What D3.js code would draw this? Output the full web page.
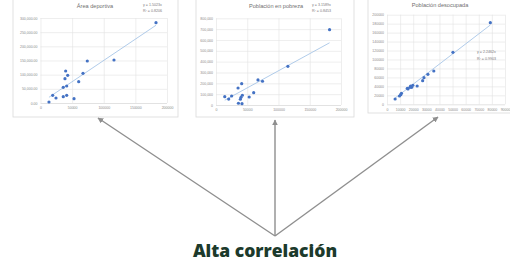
<!DOCTYPE html>
<html>
<head>
<meta charset="utf-8">
<script src="https://cdn.jsdelivr.net/npm/d3@7"></script>
<style>
  html, body { margin: 0; padding: 0; background: #fff; }
  svg { display: block; }
  .tick text { fill: #8a8a8a; font-family: "Liberation Sans", Arial, sans-serif; }
</style>
</head>
<body>
<div id="chart"></div>
<script>
// --- Datos ---
const titles = ["Área deportiva", "Población en pobreza", "Población desocupada"];
const equations = ["y = 1.5023x", "y = 3.1589x", "y = 2.2462x"];
const r2Labels = ["R² = 0.8206", "R² = 0.8453", "R² = 0.9903"];
const slopes = [1.5023, 3.1589, 2.2462];

const deportivaX = [182600, 74000, 116200, 39800, 43000, 38700, 67200, 60400, 36000, 41400, 19300, 24500, 36000, 41400, 53000, 13400];
const deportivaY = [283400, 148200, 151800, 112900, 97800, 85800, 104800, 75200, 55400, 60000, 27200, 17600, 22200, 27200, 15200, 3500];

const pobrezaX = [181700, 115000, 67200, 74400, 41100, 35300, 60300, 53100, 14000, 20300, 25000, 42200, 40000, 39000, 35900, 41600];
const pobrezaY = [695000, 357000, 231000, 219000, 197000, 157000, 114000, 74000, 77000, 55000, 83000, 90000, 71000, 53000, 16000, 12000];

const desocupadaX = [78800, 50300, 35700, 31200, 28200, 27200, 23000, 19700, 18800, 18000, 17500, 16000, 15500, 11000, 9500, 10500, 6200];
const desocupadaY = [182100, 116000, 74300, 67000, 59400, 52700, 40800, 42400, 37900, 40800, 37900, 34200, 35700, 24500, 18500, 21400, 11800];

const xTicks1 = [0, 50000, 100000, 150000, 200000];
const yTicks1 = [0, 50000, 100000, 150000, 200000, 250000, 300000];
const xTicks2 = [0, 50000, 100000, 150000, 200000];
const yTicks2 = [0, 100000, 200000, 300000, 400000, 500000, 600000, 700000, 800000];
const xTicks3 = [0, 10000, 20000, 30000, 40000, 50000, 60000, 70000, 80000, 90000];
const yTicks3 = [0, 20000, 40000, 60000, 80000, 100000, 120000, 140000, 160000, 180000, 200000];

const caption = "Alta correlación";

// --- Layout ---
const W = 510, H = 261;
const svg = d3.select("#chart").append("svg").attr("width", W).attr("height", H);

const panels = [
  { frame: [13, -1, 165, 118], plot: { x0: 40.5, x1: 167, y0: 103, y1: 18 },
    xs: deportivaX, ys: deportivaY, xt: xTicks1, yt: yTicks1,
    yFmt: d3.format(",.2f"), xFmt: d3.format("d"),
    title: [95, 8], eq: [143, 5.5] },
  { frame: [196, -1, 158, 118], plot: { x0: 216, x1: 341, y0: 105, y1: 18.3 },
    xs: pobrezaX, ys: pobrezaY, xt: xTicks2, yt: yTicks2,
    yFmt: d3.format(","), xFmt: d3.format("d"),
    title: [276, 8], eq: [312, 5.5] },
  { frame: [368, -1, 146, 114], plot: { x0: 387, x1: 505, y0: 104.3, y1: 14.7 },
    xs: desocupadaX, ys: desocupadaY, xt: xTicks3, yt: yTicks3,
    yFmt: d3.format("d"), xFmt: d3.format("d"),
    title: [440, 7], eq: [477, 53] }
];

panels.forEach((p, i) => {
  const g = svg.append("g");

  // marco del gráfico
  g.append("rect")
    .attr("x", p.frame[0]).attr("y", p.frame[1])
    .attr("width", p.frame[2]).attr("height", p.frame[3])
    .attr("fill", "#fff").attr("stroke", "#d9d9d9").attr("stroke-width", 0.8);

  const x = d3.scaleLinear().domain([p.xt[0], p.xt[p.xt.length - 1]]).range([p.plot.x0, p.plot.x1]);
  const y = d3.scaleLinear().domain([p.yt[0], p.yt[p.yt.length - 1]]).range([p.plot.y0, p.plot.y1]);

  // ejes con cuadrícula
  const gx = g.append("g")
    .attr("transform", `translate(0,${p.plot.y0})`)
    .call(d3.axisBottom(x).tickValues(p.xt).tickFormat(p.xFmt)
      .tickSize(-(p.plot.y0 - p.plot.y1)).tickPadding(4));
  const gy = g.append("g")
    .attr("transform", `translate(${p.plot.x0},0)`)
    .call(d3.axisLeft(y).tickValues(p.yt).tickFormat(p.yFmt)
      .tickSize(-(p.plot.x1 - p.plot.x0)).tickPadding(3));
  [gx, gy].forEach(a => {
    a.select(".domain").remove();
    a.selectAll(".tick line").attr("stroke", "#e3e3e3").attr("stroke-width", 0.6);
    a.selectAll(".tick text").attr("font-size", 3.5);
  });
  gy.select(".tick line").attr("stroke", "#cfcfcf");

  // línea de tendencia
  const xmin = d3.min(p.xs), xmax = d3.max(p.xs);
  g.append("line")
    .attr("x1", x(xmin)).attr("y1", y(slopes[i] * xmin))
    .attr("x2", x(xmax)).attr("y2", y(slopes[i] * xmax))
    .attr("stroke", "#9dbfe4").attr("stroke-width", 0.8);

  // puntos
  g.selectAll("circle")
    .data(p.xs.map((v, k) => [v, p.ys[k]]))
    .join("circle")
    .attr("cx", d => x(d[0])).attr("cy", d => y(d[1]))
    .attr("r", 1.6)
    .attr("fill", "#4472c4");

  // título
  g.append("text")
    .attr("x", p.title[0]).attr("y", p.title[1])
    .attr("text-anchor", "middle")
    .attr("font-family", "Liberation Sans, Arial, sans-serif")
    .attr("font-size", 5.6).attr("fill", "#6f6f6f")
    .text(titles[i]);

  // ecuación
  const eq = g.append("text")
    .attr("x", p.eq[0]).attr("y", p.eq[1])
    .attr("font-family", "Liberation Sans, Arial, sans-serif")
    .attr("font-size", 3.6).attr("fill", "#7a7a7a");
  eq.append("tspan").attr("x", p.eq[0]).text(equations[i]);
  eq.append("tspan").attr("x", p.eq[0]).attr("dy", 6.5).text(r2Labels[i]);
});

// --- Flechas ---
const origin = [275, 236];
const targets = [[98, 118], [275, 120], [438, 117]];

svg.append("defs").append("marker")
  .attr("id", "head")
  .attr("viewBox", "0 0 10 10")
  .attr("refX", 9).attr("refY", 5)
  .attr("markerWidth", 4.2).attr("markerHeight", 4.2)
  .attr("markerUnits", "strokeWidth")
  .attr("orient", "auto")
  .append("path").attr("d", "M0,0 L10,5 L0,10 Z").attr("fill", "#8f8f8f");

svg.selectAll(".arrow")
  .data(targets)
  .join("line")
  .attr("class", "arrow")
  .attr("x1", origin[0]).attr("y1", origin[1])
  .attr("x2", d => d[0]).attr("y2", d => d[1])
  .attr("stroke", "#8f8f8f").attr("stroke-width", 1.4)
  .attr("marker-end", "url(#head)");

// --- Texto inferior ---
svg.append("text")
  .attr("x", 265).attr("y", 256.5)
  .attr("text-anchor", "middle")
  .attr("font-family", "Open Sans, Noto Sans, sans-serif")
  .attr("font-weight", 800)
  .attr("font-size", 17.5)
  .attr("fill", "#1c3a2c")
  .text(caption);
</script>
</body>
</html>
